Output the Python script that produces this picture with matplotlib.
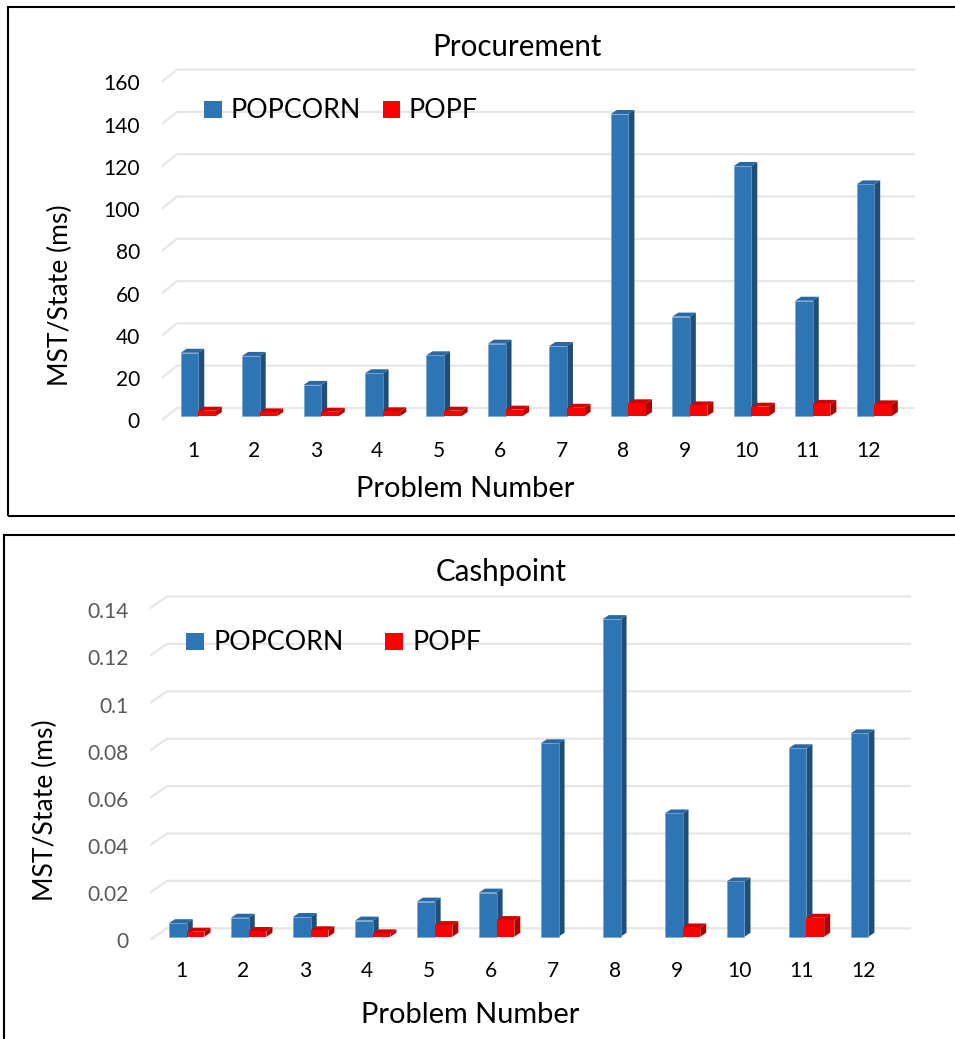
import matplotlib
matplotlib.use("Agg")
import matplotlib.pyplot as plt
from matplotlib.patches import Polygon, Rectangle
from matplotlib.lines import Line2D

# ---------------- data ----------------
problems = ["1", "2", "3", "4", "5", "6", "7", "8", "9", "10", "11", "12"]
series_names = ["POPCORN", "POPF"]

proc_title = "Procurement"
proc_popcorn = [29.9, 28.4, 14.7, 20.2, 28.7, 34.2, 33.1, 142.8, 47.0, 118.2, 54.5, 109.5]
proc_popf = [2.5, 1.7, 2.0, 2.2, 2.5, 3.0, 3.9, 6.0, 5.0, 4.4, 5.7, 5.5]
proc_ticks = [0, 20, 40, 60, 80, 100, 120, 140, 160]
proc_ticklabels = ["0", "20", "40", "60", "80", "100", "120", "140", "160"]

cash_title = "Cashpoint"
cash_popcorn = [0.0057, 0.0080, 0.0083, 0.0068, 0.0148, 0.0186, 0.0816, 0.134, 0.052, 0.0233, 0.0795, 0.0858]
cash_popf = [0.0021, 0.0024, 0.0027, 0.0014, 0.0049, 0.0070, 0.0, 0.0, 0.0039, 0.0, 0.0080, 0.0]
cash_ticks = [0, 0.02, 0.04, 0.06, 0.08, 0.10, 0.12, 0.14]
cash_ticklabels = ["0", "0.02", "0.04", "0.06", "0.08", "0.1", "0.12", "0.14"]

ylabel = "MST/State (ms)"
xlabel = "Problem Number"

# ---------------- style ----------------
W, H = 955, 1039
FONT = "Lato"
plt.rcParams["font.family"] = [FONT, "DejaVu Sans"]

BLUE = ("#2E75B6", "#1F4E79", "#2A68A3")
RED = ("#FF0000", "#B00000", "#D40000")
GRID = "#E6E6E6"

fig = plt.figure(figsize=(W / 100, H / 100), dpi=100)


def fx(px):
    return px / W


def fy(py):
    return 1 - py / H


def pt(px):
    return px * 0.72


def panel(cfg):
    L, R, T, B = cfg["L"], cfg["R"], cfg["T"], cfg["B"]
    ax = fig.add_axes([fx(L), fy(B), fx(R) - fx(L), fy(T) - fy(B)])
    x0 = cfg["x0"]
    ppc = cfg["ppc"]
    x1 = x0 + (R - L) / ppc
    ppu = cfg["ppu"]
    base = cfg["base"]  # pixel row of bar baseline
    y0 = -(B - base) / ppu
    y1 = (base - T) / ppu
    ax.set_xlim(x0, x1)
    ax.set_ylim(y0, y1)
    ax.axis("off")

    # gridlines on the back wall with a diagonal floor edge
    gdx = cfg["gdx"] / ppc
    for v in cfg["ticks"]:
        yf = v - cfg["front"] / ppu
        yb = v + cfg["back"] / ppu
        ax.add_line(Line2D([x0, x0 + gdx, x1], [yf, yb, yb], color=GRID,
                           lw=1.6, zorder=1, solid_joinstyle="miter"))

    dx = 6 / ppc
    dy = 4 / ppu
    w = 0.286
    offs = [-0.2, -0.2 + w]
    for s, (vals, cols) in enumerate([(cfg["a"], BLUE), (cfg["b"], RED)]):
        xs = [i + 1 + offs[s] for i in range(len(vals))]
        ax.bar(xs, vals, width=w, align="edge", color=cols[0],
               edgecolor="#6F9FD0" if s == 0 else "none",
               linewidth=0.4 if s == 0 else 0,
               zorder=3 + s * 2)
        for xl, v in zip(xs, vals):
            if v <= 0:
                continue
            xr = xl + w
            ax.add_patch(Polygon([(xr, 0), (xr + dx, dy), (xr + dx, v + dy), (xr, v)],
                                 closed=True, facecolor=cols[1], edgecolor="none",
                                 zorder=2 + s * 2 + 0.5))
            ax.add_patch(Polygon([(xl, v), (xl + dx, v + dy), (xr + dx, v + dy), (xr, v)],
                                 closed=True, facecolor=cols[2], edgecolor="none",
                                 zorder=2 + s * 2 + 0.5))

    # y tick labels (aligned with the front floor edge)
    for v, lab in zip(cfg["ticks"], cfg["ticklabels"]):
        yc = cfg["lab0"] - v * cfg["labscale"]
        fig.text(fx(cfg["ytx"]), fy(yc + 7.6), lab, ha="right", va="baseline",
                 fontsize=pt(cfg["tfs"]), color=cfg["tcol"])
    # x tick labels
    for i, lab in enumerate(problems):
        xp = L + (i + 1 - x0) * ppc
        fig.text(fx(xp), fy(cfg["xtb"]), lab, ha="center", va="baseline",
                 fontsize=pt(cfg["tfs"]), color="black")

    fig.text(fx(cfg["title_x"]), fy(cfg["title_b"]), cfg["title"], ha="center",
             va="baseline", fontsize=pt(29.5), color="black")
    fig.text(fx(cfg["xl_x"]), fy(cfg["xl_b"]), xlabel, ha="center",
             va="baseline", fontsize=pt(29), color="black")
    fig.text(fx(cfg["yl_x"]), fy(cfg["yl_y"]), ylabel, ha="center",
             va="center", rotation=90, fontsize=pt(26.5), color="black")

    # legend
    sq = 17.5
    for name, col, sx, tx in zip(series_names, [BLUE[0], RED[0]], cfg["leg_sq"], cfg["leg_tx"]):
        fig.patches.append(Rectangle((fx(sx), fy(cfg["leg_b"])), sq / W, sq / H,
                                     transform=fig.transFigure, facecolor=col,
                                     edgecolor="none"))
        fig.text(fx(tx), fy(cfg["leg_b"]), name, ha="left", va="baseline",
                 fontsize=pt(26.8), color="black")

    # frame
    fig.patches.append(Rectangle((fx(cfg["box"][0]), fy(cfg["box"][3])),
                                 (cfg["box"][2] - cfg["box"][0]) / W,
                                 (cfg["box"][3] - cfg["box"][1]) / H,
                                 transform=fig.transFigure, facecolor="none",
                                 edgecolor="black", linewidth=1.5))
    return ax


top = dict(L=162, R=915, T=60, B=420, x0=0.496, ppc=61.45, ppu=2.115, base=416,
           gdx=15, front=4, back=8, ticks=proc_ticks, ticklabels=proc_ticklabels,
           a=proc_popcorn, b=proc_popf, lab0=420.8, labscale=2.1125, ytx=140,
           tfs=21, tcol="black", xtb=456.7, title=proc_title, title_x=517,
           title_b=56.5, xl_x=465, xl_b=497, yl_x=60, yl_y=295.6,
           leg_b=118.3, leg_sq=[204, 382.5], leg_tx=[230, 408],
           box=(8, 7, 970, 516))
bot = dict(L=150, R=911, T=585, B=940, x0=0.493, ppc=61.97, ppu=2370, base=936.7,
           gdx=17, front=3.3, back=8.4, ticks=cash_ticks, ticklabels=cash_ticklabels,
           a=cash_popcorn, b=cash_popf, lab0=940.8, labscale=2358, ytx=128.3,
           tfs=21, tcol="#595959", xtb=976.7, title=cash_title, title_x=501,
           title_b=581, xl_x=470, xl_b=1023, yl_x=45, yl_y=810,
           leg_b=650, leg_sq=[186, 385], leg_tx=[213.3, 412.3],
           box=(4, 535, 970, 1050))

panel(top)
panel(bot)

fig.savefig("out.png", dpi=100, facecolor="white")
